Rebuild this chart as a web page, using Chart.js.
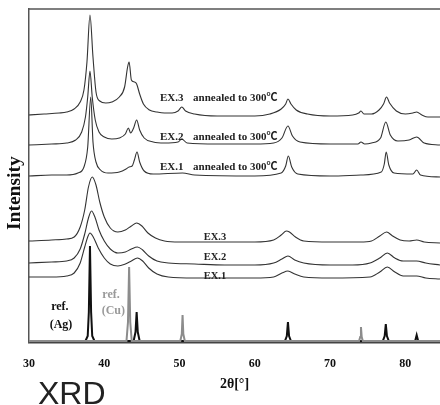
<!DOCTYPE html>
<html>
<head>
<meta charset="utf-8">
<script src="https://cdn.jsdelivr.net/npm/chart.js@4.4.1/dist/chart.umd.min.js"></script>
<style>
  html,body{margin:0;padding:0;background:#fff;}
  #wrap{position:relative;width:440px;height:405px;overflow:hidden;}
  #xrd{position:absolute;left:38px;top:377px;font-family:'Liberation Sans',Arial,sans-serif;font-size:32px;line-height:1;color:#222;}
</style>
</head>
<body>
<div id="wrap">
  <canvas id="c" width="440" height="405"></canvas>
  <div id="xrd">XRD</div>
</div>
<script>
// ---- data (2θ in degrees, intensity in arbitrary offset units) ----
const xTickValues = [30, 40, 50, 60, 70, 80];

const ex3Annealed = [[30,227],[32,228],[34,229],[35,230],[36,233],[36.8,240],[37.3,252],[37.7,280],[38.1,327],[38.5,285],[38.9,250],[39.4,241],[40.2,239],[41,240],[42,245],[42.7,255],[43.1,275],[43.3,280],[43.6,262],[44.0,260],[44.3,258],[44.7,248],[45.2,238],[46,232],[47,230],[48,229],[49,229],[49.8,231],[50.3,235],[50.8,231],[52,228],[55,226],[60,226],[62,228],[63.5,233],[64.1,238],[64.4,243],[64.8,238],[65.5,232],[67,228],[70,226],[73,227],[73.8,229],[74.1,231],[74.5,228],[75.5,228],[76.5,232],[77.1,238],[77.5,245],[77.9,239],[78.8,231],[80,228],[81,229],[81.5,230],[82.2,227],[83,225],[84.6,225]];

const ex2Annealed = [[30,197],[33,198],[35,199],[36.2,202],[37,210],[37.5,225],[37.8,245],[38.1,271],[38.4,245],[38.8,222],[39.3,210],[40,205],[41,203],[42,204],[42.8,208],[43.2,214],[43.5,209],[43.9,214],[44.3,222],[44.7,212],[45.3,204],[46.5,200],[48,199],[49.8,200],[50.3,203],[51,199],[55,198],[60,198],[62.5,199],[63.6,204],[64.4,216],[65,206],[66,200],[70,198],[73.7,198],[74.1,200],[74.6,198],[75.5,199],[76.7,204],[77.4,220],[78,207],[79,201],[80.5,202],[81.5,205],[82.5,199],[84.6,197]];

const ex1Annealed = [[30,166],[33,167],[35,167],[36.5,169],[37.3,175],[37.8,195],[38.2,245],[38.5,200],[38.9,180],[39.5,172],[40.5,169],[42,170],[42.9,173],[43.3,175],[43.7,176],[44.0,182],[44.35,190],[44.7,180],[45.3,171],[46.5,168],[50.4,169],[52,167],[60,166],[63.5,169],[64.1,176],[64.45,186],[64.9,175],[65.7,168],[70,166],[74.1,167],[76.8,170],[77.2,178],[77.45,190],[77.8,177],[78.5,169],[81,168],[81.5,172],[82,167],[84.6,165]];

const ex3 = [[30,101],[33,102],[35,103],[36,105],[36.8,115],[37.4,132],[37.9,155],[38.4,165],[38.9,157],[39.4,140],[40,125],[40.8,114],[41.8,110],[42.8,112],[43.6,116],[44.3,119],[45.0,116],[45.8,109],[46.8,104],[48,101],[50,100],[55,100],[60,100],[62.5,102],[63.5,107],[64.2,111],[64.6,110],[65.4,105],[66.5,101],[70,100],[74,100],[75.5,101],[76.6,106],[77.5,110],[78.3,106],[79.3,102],[80.5,101],[81.5,102],[82.5,100],[84.6,99]];

const ex2 = [[30,79],[33,80],[35,81],[36,84],[36.8,93],[37.4,108],[37.9,124],[38.3,131],[38.8,124],[39.3,112],[40,101],[40.8,93],[41.8,89],[42.8,90],[43.6,93],[44.4,95],[45.1,92],[45.9,86],[47,81],[48.5,79],[52,78],[56,77],[60,77],[62.5,79],[63.6,83],[64.4,86],[65.3,82],[66.5,79],[70,77],[73,77],[75.3,79],[76.6,84],[77.6,89],[78.6,84],[79.7,81],[81.5,81],[82.7,79],[84.6,77]];

const ex1 = [[30,65],[33,65],[35,66],[36,69],[36.8,79],[37.4,95],[37.8,105],[38.1,109],[38.6,104],[39.2,94],[40,84],[40.8,78],[41.8,76],[42.8,78],[43.6,81],[44.4,84],[45.1,81],[45.9,74],[47,68],[48.5,65],[52,64],[60,64],[62.5,65],[63.6,69],[64.4,71],[65.3,68],[66.5,65],[70,64],[75.3,65],[76.6,70],[77.6,75],[78.6,70],[79.7,66],[81.5,66],[82.7,64],[84.6,63]];

const refAg = [[30,1],[37.5,1],[37.8,6],[37.95,30],[38.1,96],[38.25,30],[38.4,6],[38.7,1],[43.9,1],[44.15,10],[44.3,30],[44.45,10],[44.7,1],[64.0,1],[64.25,6],[64.4,20],[64.55,6],[64.8,1],[77.0,1],[77.25,6],[77.4,18],[77.55,6],[77.8,1],[81.3,1],[81.5,7],[81.7,1],[84.6,1]];

const refCu = [[30,1],[42.95,1],[43.15,20],[43.3,75],[43.45,20],[43.65,1],[50.1,1],[50.3,8],[50.4,27],[50.5,8],[50.7,1],[73.85,1],[74.0,5],[74.1,15],[74.2,5],[74.35,1],[84.6,1]];

// ---- text annotations (placed in data units through the scales) ----
const serif = "'Liberation Serif','Times New Roman','Noto Sans CJK JP',serif";
const notes = [
  {text:'EX.3', x:47.4, y:244, size:11, color:'#222', align:'left'},
  {text:'annealed to 300℃', x:51.8, y:244, size:11, color:'#222', align:'left'},
  {text:'EX.2', x:47.4, y:205, size:11, color:'#222', align:'left'},
  {text:'annealed to 300℃', x:51.8, y:205, size:11, color:'#222', align:'left'},
  {text:'EX.1', x:47.4, y:175, size:11, color:'#222', align:'left'},
  {text:'annealed to 300℃', x:51.8, y:175, size:11, color:'#222', align:'left'},
  {text:'EX.3', x:54.7, y:104.5, size:10.5, color:'#222', align:'center'},
  {text:'EX.2', x:54.7, y:84.5, size:10.5, color:'#222', align:'center'},
  {text:'EX.1', x:54.7, y:65.5, size:10.5, color:'#222', align:'center'},
  {text:'ref.', x:34.1, y:35, size:12, color:'#111', align:'center'},
  {text:'(Ag)', x:34.25, y:17, size:12, color:'#111', align:'center'},
  {text:'ref.', x:40.9, y:47, size:12, color:'#9a9a9a', align:'center'},
  {text:'(Cu)', x:41.2, y:31, size:12, color:'#9a9a9a', align:'center'}
];
const yTitle = 'Intensity';

const toXY = arr => arr.map(p => ({x:p[0], y:p[1]}));
const curve = (label, arr, color, width) => ({
  label, data: toXY(arr), borderColor: color, borderWidth: width,
  pointRadius: 0, fill: false, cubicInterpolationMode: 'monotone'
});
const stick = (label, arr, color, width) => ({
  label, data: toXY(arr), borderColor: color, borderWidth: width,
  pointRadius: 0, fill: false, tension: 0
});

const framePlugin = {
  id: 'frame',
  afterDraw(chart) {
    const {ctx, chartArea} = chart;
    ctx.save();
    ctx.strokeStyle = '#555';
    ctx.lineWidth = 1.5;
    ctx.beginPath();
    ctx.moveTo(chartArea.left, chartArea.top);
    ctx.lineTo(chartArea.right, chartArea.top);
    ctx.stroke();
    // y-axis title, set slightly below the plot centre as in the original
    ctx.translate(15, chartArea.top + (chartArea.bottom - chartArea.top) * 0.553);
    ctx.rotate(-Math.PI / 2);
    ctx.font = 'bold 19.5px ' + serif;
    ctx.fillStyle = '#111';
    ctx.textAlign = 'center';
    ctx.textBaseline = 'middle';
    ctx.fillText(yTitle, 0, 0);
    ctx.restore();
  }
};
const notesPlugin = {
  id: 'notes',
  afterDatasetsDraw(chart) {
    const {ctx, scales} = chart;
    ctx.save();
    notes.forEach(n => {
      ctx.font = 'bold ' + n.size + 'px ' + serif;
      ctx.fillStyle = n.color;
      ctx.textAlign = n.align;
      ctx.textBaseline = 'middle';
      ctx.fillText(n.text, scales.x.getPixelForValue(n.x), scales.y.getPixelForValue(n.y));
    });
    ctx.restore();
  }
};

new Chart(document.getElementById('c'), {
  type: 'line',
  data: {
    datasets: [
      stick('ref. (Cu)', refCu, '#8c8c8c', 2),
      stick('ref. (Ag)', refAg, '#111', 2),
      curve('EX.1', ex1, '#333', 1.1),
      curve('EX.2', ex2, '#333', 1.1),
      curve('EX.3', ex3, '#333', 1.1),
      curve('EX.1 annealed to 300℃', ex1Annealed, '#333', 1.1),
      curve('EX.2 annealed to 300℃', ex2Annealed, '#333', 1.1),
      curve('EX.3 annealed to 300℃', ex3Annealed, '#333', 1.1)
    ]
  },
  options: {
    responsive: false,
    animation: false,
    devicePixelRatio: 1,
    layout: {padding: {top: 9, right: 0, bottom: 0, left: 0}},
    plugins: {legend: {display: false}, tooltip: {enabled: false}},
    scales: {
      x: {
        type: 'linear', min: 30, max: 84.6,
        afterBuildTicks: s => { s.ticks = xTickValues.map(v => ({value: v})); },
        grid: {display: false, drawTicks: false},
        border: {display: true, color: '#444', width: 2.5},
        ticks: {padding: 14.8, color: '#111', font: {family: serif, size: 12, weight: 'bold'}},
        title: {display: true, text: '2θ[°]', color: '#111', padding: {top: -10.4, bottom: 12.6},
                font: {family: serif, size: 14, weight: 'bold'}}
      },
      y: {
        type: 'linear', min: 0, max: 333,
        grid: {display: false, drawTicks: false},
        border: {display: true, color: '#555', width: 1.5},
        ticks: {display: false},
        title: {display: false},
        afterFit: s => { s.width = 29; }
      }
    }
  },
  plugins: [framePlugin, notesPlugin]
});
</script>
</body>
</html>
